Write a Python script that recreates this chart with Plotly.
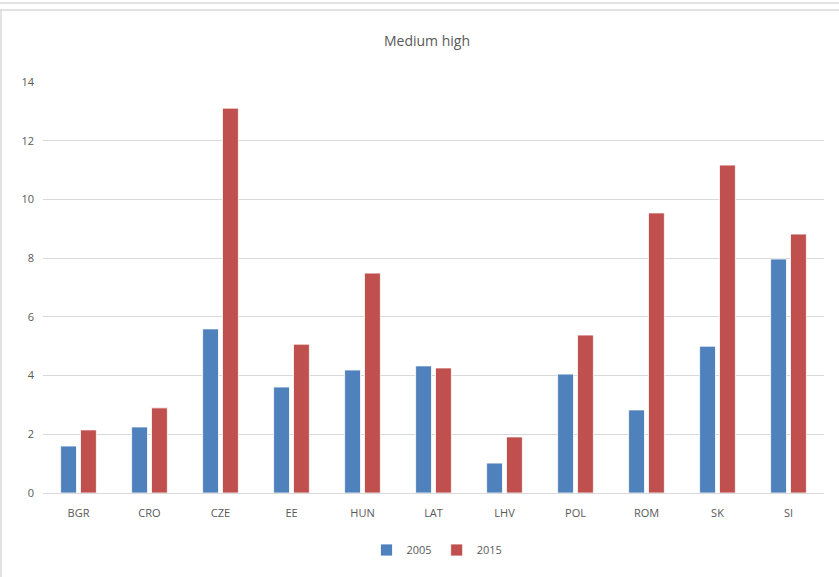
import plotly.graph_objects as go

# Medium-high technology share by country, 2005 vs 2015
countries = ["BGR", "CRO", "CZE", "EE", "HUN", "LAT", "LHV", "POL", "ROM", "SK", "SI"]
values_2005 = [1.60, 2.25, 5.59, 3.61, 4.19, 4.33, 1.02, 4.05, 2.83, 5.00, 7.97]
values_2015 = [2.15, 2.90, 13.11, 5.07, 7.49, 4.26, 1.91, 5.38, 9.54, 11.17, 8.82]
y_ticks = [0, 2, 4, 6, 8, 10, 12, 14]

W, H = 839, 577
L, R, T, B = 43, 824, 82, 493  # plot area edges in pixels

BLUE = "#4F81BD"
RED = "#C0504D"
TEXT = "#595959"
GRID = "#D9D9D9"
FONT = "Open Sans"


def px_x(p):
    return (p - L) / (R - L)


def px_y(p):
    return (B - p) / (B - T)


fig = go.Figure()
fig.add_trace(go.Bar(
    name="2005", x=countries, y=values_2005,
    marker=dict(color=BLUE, line=dict(color="white", width=0.8)),
))
fig.add_trace(go.Bar(
    name="2015", x=countries, y=values_2015,
    marker=dict(color=RED, line=dict(color="white", width=0.8)),
))

# outer frame lines of the chart box
frame = "#D9D9D9"
shapes = [
    dict(type="line", xref="paper", yref="paper",
         x0=px_x(0), x1=px_x(W), y0=px_y(3), y1=px_y(3),
         line=dict(color=frame, width=1.5)),
    dict(type="line", xref="paper", yref="paper",
         x0=px_x(0), x1=px_x(W), y0=px_y(10), y1=px_y(10),
         line=dict(color=frame, width=1.5)),
    dict(type="line", xref="paper", yref="paper",
         x0=px_x(1), x1=px_x(1), y0=px_y(10), y1=px_y(H),
         line=dict(color=frame, width=1.5)),
]

fig.update_layout(
    width=W, height=H,
    margin=dict(l=L, r=W - R, t=T, b=H - B, pad=0),
    paper_bgcolor="white", plot_bgcolor="white",
    barmode="group", bargap=0.44, bargroupgap=0.2,
    font=dict(family=FONT, color=TEXT, size=12),
    title=dict(text="Medium high", x=427 / W,
               xanchor="center", y=1 - 41 / H, yanchor="middle",
               yref="container", font=dict(size=14, color=TEXT, family=FONT)),
    xaxis=dict(showgrid=False, showline=False, ticks="",
               tickfont=dict(size=11, color=TEXT), ticklabelstandoff=12),
    yaxis=dict(range=[0, 14], tickvals=y_ticks, showgrid=True, gridcolor=GRID,
               gridwidth=1.3, zeroline=True, zerolinecolor=GRID, zerolinewidth=1.3,
               showline=False, ticks="", tickfont=dict(size=11, color=TEXT),
               ticklabelstandoff=8),
    legend=dict(orientation="h", x=437 / W, xref="container", xanchor="center",
                y=1 - 550 / H, yref="container", yanchor="middle",
                font=dict(size=11, color=TEXT), itemwidth=30,
                traceorder="normal"),
    shapes=shapes,
    showlegend=True,
)

fig.write_html("out.html")
